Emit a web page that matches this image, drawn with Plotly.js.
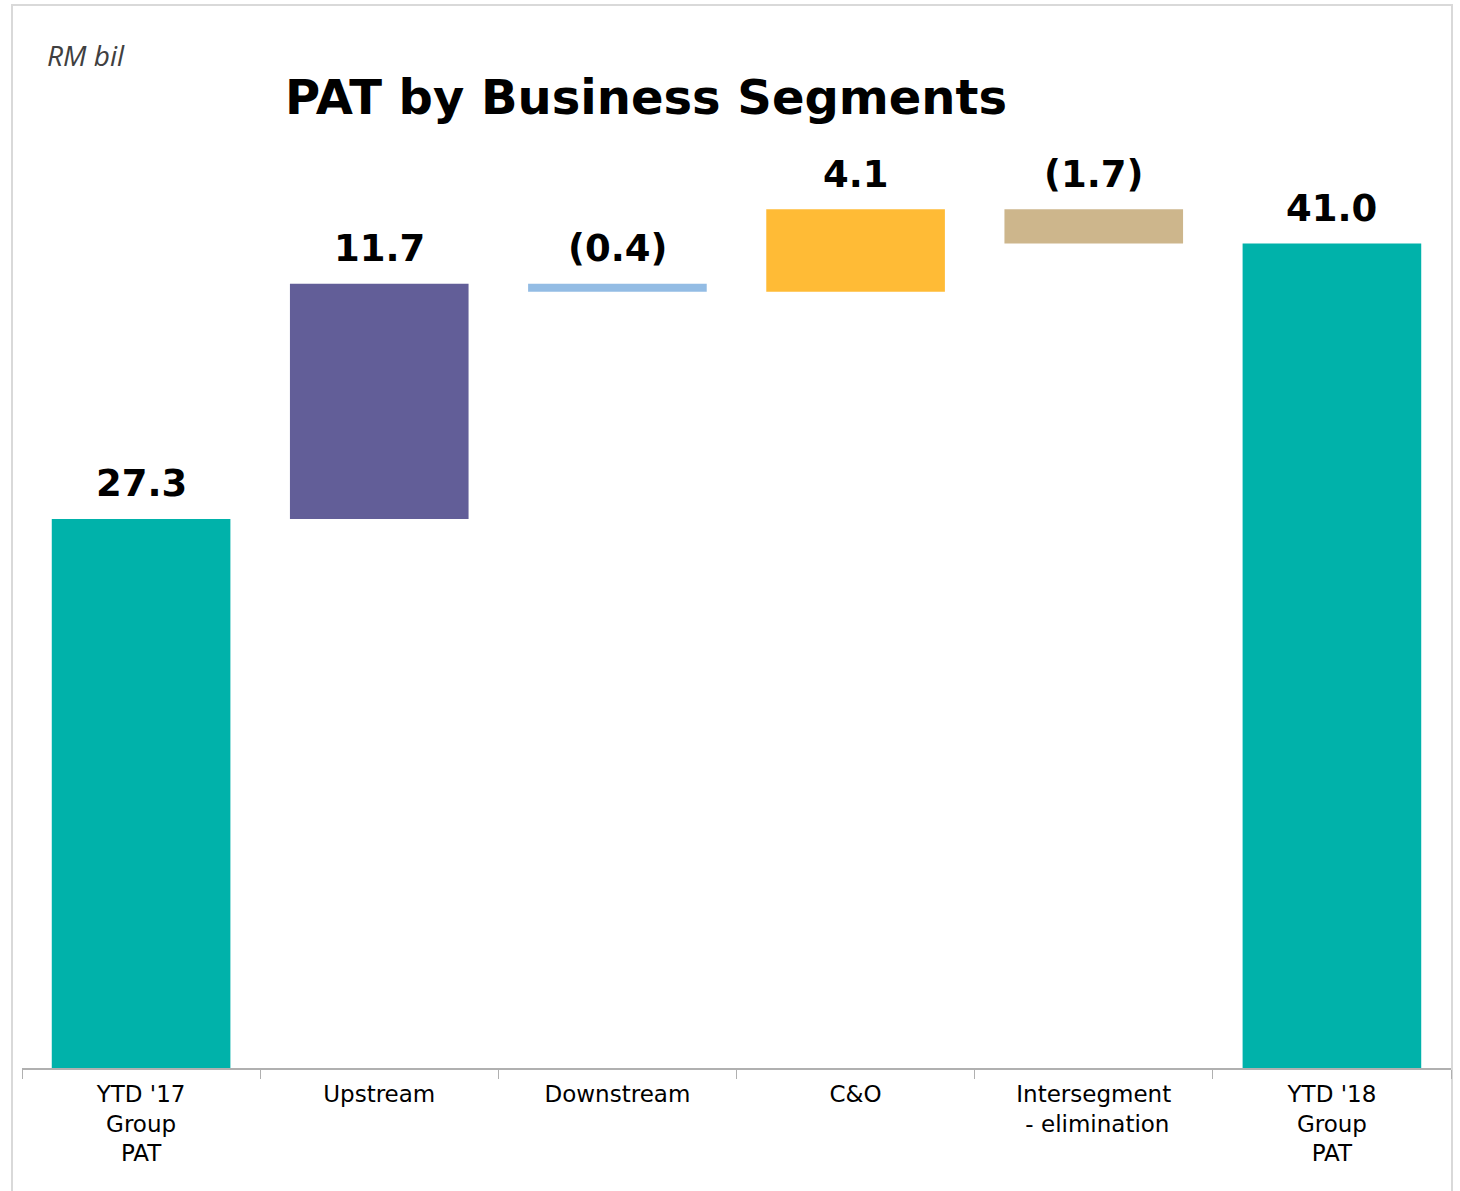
<!DOCTYPE html>
<html>
<head>
<meta charset="utf-8">
<script src="https://cdn.plot.ly/plotly-3.0.1.min.js"></script>
<style>
  html, body { margin: 0; padding: 0; background: #fff; }
  #frame { position: absolute; left: 11px; top: 4px; width: 1438px; height: 1200px;
           border: 2px solid #d9d9d9; border-bottom: none; }
  #chart { position: absolute; left: 0; top: 0; width: 1460px; height: 1191px; }
</style>
</head>
<body>
<div id="frame"></div>
<div id="chart"></div>
<script>
// categories and values (RM bil)
const categories = ["YTD '17<br>Group<br>PAT", "Upstream", "Downstream", "C&O", "Intersegment<br> - elimination", "YTD '18<br>Group<br>PAT"];
const measures = ['absolute', 'relative', 'relative', 'relative', 'relative', 'total'];
const values = [27.3, 11.7, -0.4, 4.1, -1.7, 41.0];
const labels = ['27.3', '11.7', '(0.4)', '4.1', '(1.7)', '41.0'];
const colors = ['#00B2AA', '#625E98', '#93BCE4', '#FFBB36', '#CDB68C', '#00B2AA'];

// work out floating bar bases from the running total
let running = 0;
const bases = [];
const heights = [];
const tops = [];
for (let i = 0; i < values.length; i++) {
  if (measures[i] === 'relative') {
    const start = running;
    running += values[i];
    bases.push(Math.min(start, running));
    heights.push(Math.abs(values[i]));
  } else {
    if (measures[i] === 'absolute') running = values[i];
    bases.push(0);
    heights.push(running);
  }
  tops.push(bases[i] + heights[i]);
}

const data = [{
  type: 'bar',
  x: categories,
  y: heights,
  base: bases,
  width: 0.75,
  marker: { color: colors, line: { width: 0 } },
  hoverinfo: 'skip'
}];

const annotations = categories.map((c, i) => ({
  x: c,
  y: tops[i],
  text: labels[i],
  showarrow: false,
  yanchor: 'middle',
  yshift: 35,
  font: { family: 'DejaVu Sans', size: 37, color: '#000', weight: 'bold' }
}));

annotations.push({
  xref: 'paper', yref: 'paper',
  x: (45 - 22) / 1429, y: 1 + (163 - 55) / 905,
  xanchor: 'left', yanchor: 'middle',
  text: '<i>RM bil</i>',
  showarrow: false,
  font: { family: 'Open Sans', size: 28, color: '#404040' }
});

const layout = {
  width: 1460,
  height: 1191,
  margin: { l: 22, r: 9, t: 163, b: 123 },
  paper_bgcolor: 'rgba(0,0,0,0)',
  plot_bgcolor: 'rgba(0,0,0,0)',
  showlegend: false,
  title: {
    text: '<b>PAT by Business Segments</b>',
    x: 646 / 1460,
    xanchor: 'center',
    y: 1 - 97 / 1191,
    yanchor: 'middle',
    font: { family: 'DejaVu Sans', size: 48, color: '#000' }
  },
  xaxis: {
    type: 'category',
    showline: true,
    linecolor: '#b0b0b0',
    linewidth: 2,
    ticks: 'outside',
    tickson: 'boundaries',
    ticklen: 9,
    tickcolor: '#b0b0b0',
    tickwidth: 1,
    ticklabelstandoff: 4,
    showgrid: false,
    tickfont: { family: 'DejaVu Sans', size: 23, color: '#000' }
  },
  yaxis: {
    range: [0, 45],
    visible: false,
    showgrid: false,
    zeroline: false
  },
  annotations: annotations
};

Plotly.newPlot('chart', data, layout, { staticPlot: true });
</script>
</body>
</html>
